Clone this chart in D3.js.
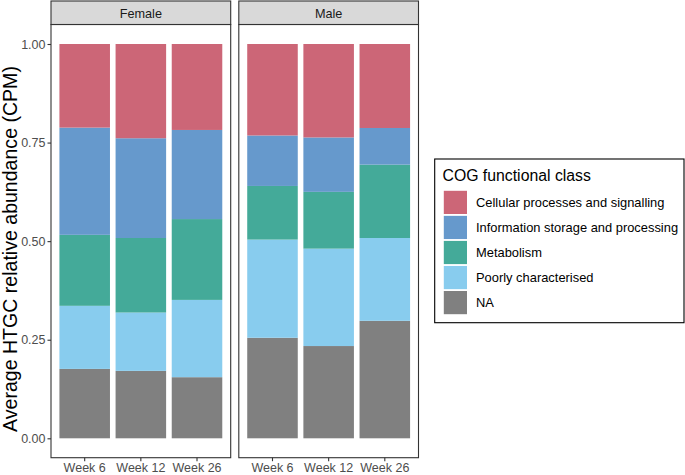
<!DOCTYPE html>
<html><head><meta charset="utf-8">
<script src="https://cdn.jsdelivr.net/npm/d3@7"></script>
<style>body{margin:0;background:#fff}svg{display:block;font-family:"Liberation Sans",Arial,sans-serif}</style>
</head><body><svg id="c" width="685" height="475"></svg>
<script>
const panels = ["Female", "Male"];
const weeks = ["Week 6", "Week 12", "Week 26"];
const classes = ["Cellular processes and signalling", "Information storage and processing", "Metabolism", "Poorly characterised", "NA"];
const colors = ["#CC6677", "#6699CC", "#44AA99", "#88CCEE", "#808080"];
// values per class (bottom-to-top stacking order: NA, Poorly, Metabolism, Information, Cellular)
const femaleNA = [0.176, 0.171, 0.155];
const femalePoor = [0.160, 0.148, 0.196];
const femaleMeta = [0.180, 0.189, 0.205];
const femaleInfo = [0.272, 0.253, 0.226];
const femaleCell = [0.212, 0.239, 0.218];
const maleNA = [0.255, 0.234, 0.298];
const malePoor = [0.249, 0.247, 0.210];
const maleMeta = [0.136, 0.144, 0.186];
const maleInfo = [0.128, 0.138, 0.093];
const maleCell = [0.232, 0.237, 0.213];
const yTicks = [0, 0.25, 0.5, 0.75, 1];

const data = {
  Female: {"NA": femaleNA, "Poorly characterised": femalePoor, "Metabolism": femaleMeta, "Information storage and processing": femaleInfo, "Cellular processes and signalling": femaleCell},
  Male: {"NA": maleNA, "Poorly characterised": malePoor, "Metabolism": maleMeta, "Information storage and processing": maleInfo, "Cellular processes and signalling": maleCell}
};
const color = d3.scaleOrdinal().domain(classes).range(colors);
const svg = d3.select("#c");
const y = d3.scaleLinear().domain([0, 1]).range([438.3, 44]);
const panelX = {Female: [51, 230.7], Male: [238.8, 418.5]};
const pTop = 24.5, pBottom = 457.7, stripTop = 1;
const stackOrder = classes.slice().reverse();

panels.forEach((p, pi) => {
  const [x0, x1] = panelX[p];
  const x = d3.scaleBand().domain(weeks).range([x0, x1]).paddingInner(0.1).paddingOuter(0.15);
  const g = svg.append("g");
  g.append("rect").attr("x", x0).attr("y", pTop).attr("width", x1 - x0).attr("height", pBottom - pTop).attr("fill", "#fff");
  const rows = weeks.map((w, i) => { const r = {week: w}; classes.forEach(c => r[c] = data[p][c][i]); return r; });
  const series = d3.stack().keys(stackOrder)(rows);
  series.forEach(s => {
    g.selectAll(null).data(s).join("rect")
      .attr("x", d => x(d.data.week)).attr("width", x.bandwidth())
      .attr("y", d => y(d[1])).attr("height", d => y(d[0]) - y(d[1]))
      .attr("fill", color(s.key));
  });
  g.append("rect").attr("x", x0).attr("y", pTop).attr("width", x1 - x0).attr("height", pBottom - pTop)
    .attr("fill", "none").attr("stroke", "#333").attr("stroke-width", 1.1);
  // strip
  g.append("rect").attr("x", x0).attr("y", stripTop).attr("width", x1 - x0).attr("height", pTop - stripTop)
    .attr("fill", "#D9D9D9").attr("stroke", "#333").attr("stroke-width", 1.1);
  g.append("text").attr("x", (x0 + x1) / 2).attr("y", 17.5).attr("text-anchor", "middle")
    .attr("font-size", 12.7).attr("fill", "#1A1A1A").text(p);
  // x axis
  const xa = svg.append("g").attr("transform", `translate(0,${pBottom})`).call(d3.axisBottom(x).tickSize(3.5).tickPadding(2));
  xa.select(".domain").remove();
  xa.selectAll("line").attr("stroke", "#333").attr("stroke-width", 1.1);
  xa.selectAll("text").attr("font-size", 12.5).attr("fill", "#4D4D4D").attr("font-family", "Liberation Sans, Arial, sans-serif");
});

const ya = svg.append("g").attr("transform", "translate(51,0)")
  .call(d3.axisLeft(y).tickValues(yTicks).tickFormat(d3.format(".2f")).tickSize(3.5).tickPadding(2));
ya.select(".domain").remove();
ya.selectAll("line").attr("stroke", "#333").attr("stroke-width", 1.1);
ya.selectAll("text").attr("font-size", 12.5).attr("fill", "#4D4D4D").attr("font-family", "Liberation Sans, Arial, sans-serif");

const yTitle = svg.append("text").attr("transform", "translate(17,249) rotate(-90)").attr("text-anchor", "middle")
  .attr("font-size", 16).attr("fill", "#000").text("Average HTGC relative abundance (CPM)");
const len16 = yTitle.node().getComputedTextLength();
const fs = Math.min(20, Math.max(14, 16 * 366 / len16));
yTitle.attr("font-size", fs);

// legend
const lg = svg.append("g");
lg.append("rect").attr("x", 434.7).attr("y", 159).attr("width", 249.3).attr("height", 163.7)
  .attr("fill", "#fff").attr("stroke", "#000").attr("stroke-width", 1.1);
lg.append("text").attr("x", 442.5).attr("y", 181).attr("font-size", 15.8).attr("fill", "#000").text("COG functional class");
classes.forEach((c, i) => {
  const ky = 190.8 + i * 25.05;
  lg.append("rect").attr("x", 443.8).attr("y", ky).attr("width", 23.2).attr("height", 23.2).attr("fill", color(c));
  lg.append("text").attr("x", 476).attr("y", ky + 16.3).attr("font-size", 12.9).attr("fill", "#000").text(c);
});
</script></body></html>
